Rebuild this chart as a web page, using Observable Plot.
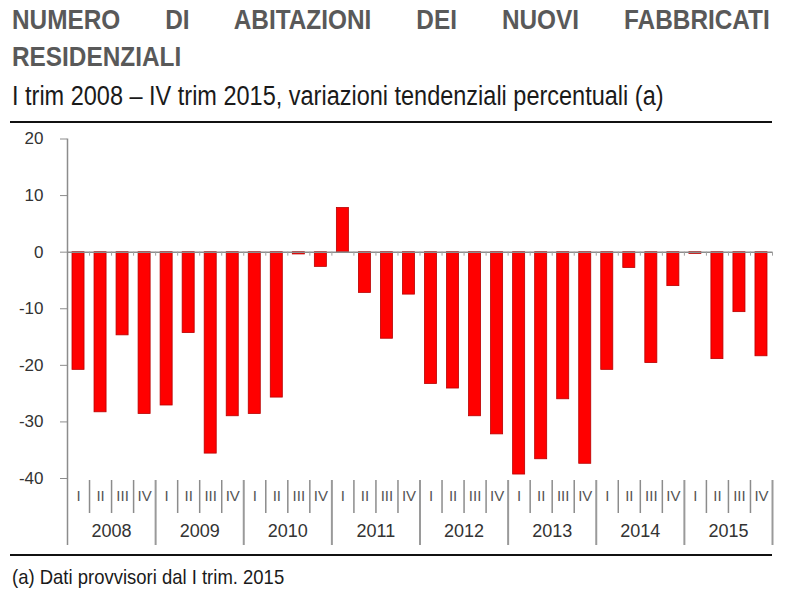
<!DOCTYPE html>
<html>
<head>
<meta charset="utf-8">
<script src="https://cdn.jsdelivr.net/npm/d3@7"></script>
<script src="https://cdn.jsdelivr.net/npm/@observablehq/plot@0.6"></script>
<style>
  body { margin: 0; background: #fff; }
  #wrap { position: relative; width: 789px; height: 600px; overflow: hidden; background: #fff; }
  .narrow { font-family: "Liberation Sans Narrow", "Arial Narrow", "Liberation Sans", Arial, sans-serif;
            transform-origin: 0 0; }
  #title { position: absolute; left: 12px; top: 1px; width: 871px; font-size: 28px; line-height: 37px;
           font-weight: bold; color: #595959; text-align: justify; text-align-last: justify; transform: scaleX(0.87); }
  #subtitle { position: absolute; left: 12px; top: 81px; font-size: 27px; line-height: 30px;
              color: #1a1a1a; white-space: nowrap; transform: scaleX(0.87); }
  .rule { position: absolute; left: 10px; width: 762px; height: 2px; background: #111; }
  #chart { position: absolute; left: 0; top: 125px; }
  #note { position: absolute; left: 12px; top: 565px; font-size: 21px; line-height: 24px; color: #1a1a1a;
          white-space: nowrap; transform: scaleX(0.88); }
</style>
</head>
<body>
<div id="wrap">
  <div id="title" class="narrow">NUMERO DI ABITAZIONI DEI NUOVI FABBRICATI<br>RESIDENZIALI</div>
  <div id="subtitle" class="narrow">I trim 2008 – IV trim 2015, variazioni tendenziali percentuali (a)</div>
  <div class="rule" style="top:121px"></div>
  <div id="chart"></div>
  <div class="rule" style="top:554px"></div>
  <div id="note" class="narrow">(a) Dati provvisori dal I trim. 2015</div>
</div>
<script>
const years = ["2008", "2009", "2010", "2011", "2012", "2013", "2014", "2015"];
const quarters = ["I", "II", "III", "IV"];
const values = [
  -20.8, -28.3, -14.7, -28.6,
  -27.1, -14.3, -35.6, -29.0,
  -28.6, -25.7, -0.4, -2.6,
  7.8, -7.2, -15.3, -7.5,
  -23.3, -24.1, -29.0, -32.2,
  -39.3, -36.6, -26.0, -37.4,
  -20.8, -2.8, -19.6, -6.0,
  -0.3, -18.9, -10.6, -18.4
];
const yTicks = [-40, -30, -20, -10, 0, 10, 20];

const data = values.map((v, i) => ({ i, v, q: quarters[i % 4], year: years[Math.floor(i / 4)] }));
const bounds = d3.range(0, values.length + 1);
const quarterBounds = bounds.filter(b => b % 4 !== 0);
const yearBounds = bounds.filter(b => b % 4 === 0 && b > 0);

const chart = Plot.plot({
  width: 789,
  height: 425,
  marginLeft: 67,
  marginRight: 17,
  marginTop: 13.5,
  marginBottom: 72,
  x: { type: "linear", domain: [0, values.length], axis: null },
  y: { domain: [-40, 20] },
  style: { fontFamily: "'Liberation Sans', Arial, sans-serif", background: "transparent", overflow: "visible" },
  marks: [
    Plot.rectY(data, { x1: "i", x2: d => d.i + 1, y: "v", insetLeft: 5, insetRight: 5,
                       fill: "#ff0000", stroke: "#b80000", strokeWidth: 0.8 }),
    Plot.ruleY([0], { stroke: "#8c8c8c", strokeWidth: 1.5 }),
    Plot.ruleX(bounds, { x: d => d, y1: () => 0, y2: () => 0, insetBottom: -4, stroke: "#a0a0a0", strokeWidth: 1 }),
    Plot.axisY({ ticks: yTicks, tickSize: 7, text: null, stroke: "#8c8c8c", label: null }),
    Plot.axisY({ ticks: yTicks, tickSize: 0, tickPadding: 24, tickFormat: d => String(d),
                 fontSize: 17, fill: "#333", label: null }),
    Plot.ruleX([0], { insetBottom: -67, stroke: "#8c8c8c", strokeWidth: 1.5 }),
    Plot.ruleX(quarterBounds, { x: d => d, insetTop: 341.5, insetBottom: -35, stroke: "#8c8c8c", strokeWidth: 1.5 }),
    Plot.ruleX(yearBounds, { x: d => d, insetTop: 341.5, insetBottom: -67, stroke: "#9a9a9a", strokeWidth: 2 }),
    Plot.text(data, { x: d => d.i + 0.5, text: "q", frameAnchor: "bottom", dy: 22, fontSize: 15, fill: "#555" }),
    Plot.text(years, { x: (d, i) => i * 4 + 2, text: d => d, frameAnchor: "bottom", dy: 58, fontSize: 18, fill: "#333" })
  ]
});
document.getElementById("chart").appendChild(chart);
</script>
</body>
</html>
